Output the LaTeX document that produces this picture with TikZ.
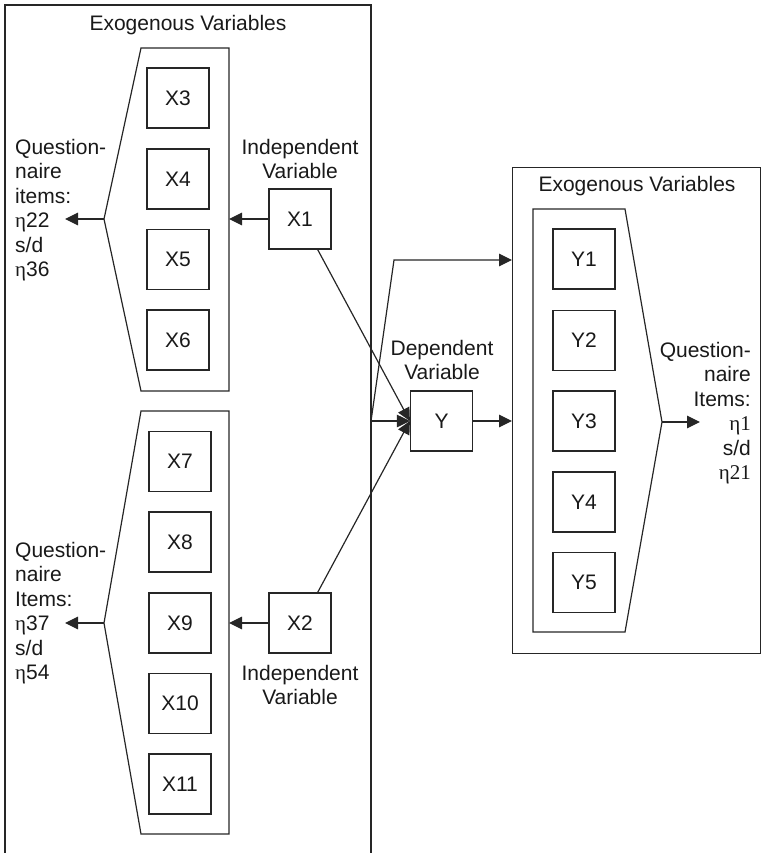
\documentclass[tikz,border=0pt]{standalone}
\usepackage{fontspec}
\setmainfont{Liberation Sans}
\newfontfamily\grk{Liberation Serif}
\usetikzlibrary{arrows.meta}

\tikzset{
  ln/.style={line width=1.2pt, draw=black!85},
  arr/.style={ln, -{Triangle[length=13pt,width=12.5pt]}},
  varbox/.style={ln, rectangle, minimum width=62pt, minimum height=60pt, inner sep=0pt},
  txt/.style={font=\fontsize{21}{24.5}\selectfont, inner sep=0pt, text=black!90},
}

\begin{document}
\begin{tikzpicture}[x=1pt, y=-1pt, every node/.style={txt}]
\useasboundingbox (0,0) rectangle (761,853);

% outer frame of the exogenous block on the left (open at the bottom)
\draw[ln] (5,853) -- (5,5) -- (371,5) -- (371,853);
\node at (188,25) {Exogenous Variables};

% upper group of indicators
\draw[ln] (141,48) -- (229,48) -- (229,391) -- (141,391) -- (104,219) -- cycle;
\coordinate (g1r) at (229,219);
\coordinate (g1p) at (104,219);
\coordinate (q1) at (65,219);
\node[varbox, draw] (X3) at (178,98)  {X3};
\node[varbox, draw] (X4) at (178,179) {X4};
\node[varbox, draw] (X5) at (178,259.5) {X5};
\node[varbox, draw] (X6) at (178,340) {X6};

% lower group of indicators
\draw[ln] (141,411) -- (229,411) -- (229,834) -- (141,834) -- (104,623) -- cycle;
\coordinate (g2r) at (229,623);
\coordinate (g2p) at (104,623);
\coordinate (q2) at (65,623);
\node[varbox, draw] (X7)  at (180,461.5) {X7};
\node[varbox, draw] (X8)  at (180,542)   {X8};
\node[varbox, draw] (X9)  at (180,623)   {X9};
\node[varbox, draw] (X10) at (180,703.5) {X10};
\node[varbox, draw] (X11) at (180,784)   {X11};

% questionnaire item labels, left side
\node[anchor=north west, align=left] (Q1) at (15,139)
  {Question-\\naire\\items:\\{\grk η}22\\s/d\\{\grk η}36};
\node[anchor=north west, align=left] (Q2) at (15,542)
  {Question-\\naire\\Items:\\{\grk η}37\\s/d\\{\grk η}54};

% independent variables
\node[varbox, draw] (X1) at (300,219) {X1};
\node[anchor=north, align=center] at (300,139) {Independent\\Variable};
\node[varbox, draw] (X2) at (300,623) {X2};
\node[anchor=north, align=center] at (300,665) {Independent\\Variable};

% dependent variable
\node[varbox, draw] (Y) at (441.5,421) {Y};
\node[anchor=north, align=center] at (442,340) {Dependent\\Variable};

% right block
\node[ln, draw, rectangle, minimum width=248pt, minimum height=486pt, anchor=north west] (R) at (512,167) {};
\node at (637,186) {Exogenous Variables};
\draw[ln] (533,209) -- (625,209) -- (662,422) -- (625,632) -- (533,632) -- cycle;
\coordinate (g3p) at (662,422);
\coordinate (q3) at (700,422);
\node[varbox, draw] (Y1) at (584,259)   {Y1};
\node[varbox, draw] (Y2) at (584,340.5) {Y2};
\node[varbox, draw] (Y3) at (584,421)   {Y3};
\node[varbox, draw] (Y4) at (584,502)   {Y4};
\node[varbox, draw] (Y5) at (584,582.5) {Y5};
\node[anchor=north east, align=right] (Q3) at (751,342)
  {Question-\\naire\\Items:\\{\grk η1}\\s/d\\{\grk η21}};

% connectors
\draw[arr] (X1.west) -- (g1r);
\draw[arr] (g1p) -- (q1);
\draw[arr] (X2.west) -- (g2r);
\draw[arr] (g2p) -- (q2);
\draw[arr] (g3p) -- (q3);

\draw[arr] (X1.-60) -- (Y.west);
\draw[arr] (X2.60) -- (Y.west);

\coordinate (j) at (371,421);
\coordinate (k) at (394,260);
\draw[arr] (j) -- (Y.west);
\draw[arr] (j) -- (k) -- (R.west |- k);
\draw[arr] (Y.east) -- (R.west |- Y);
\end{tikzpicture}
\end{document}
